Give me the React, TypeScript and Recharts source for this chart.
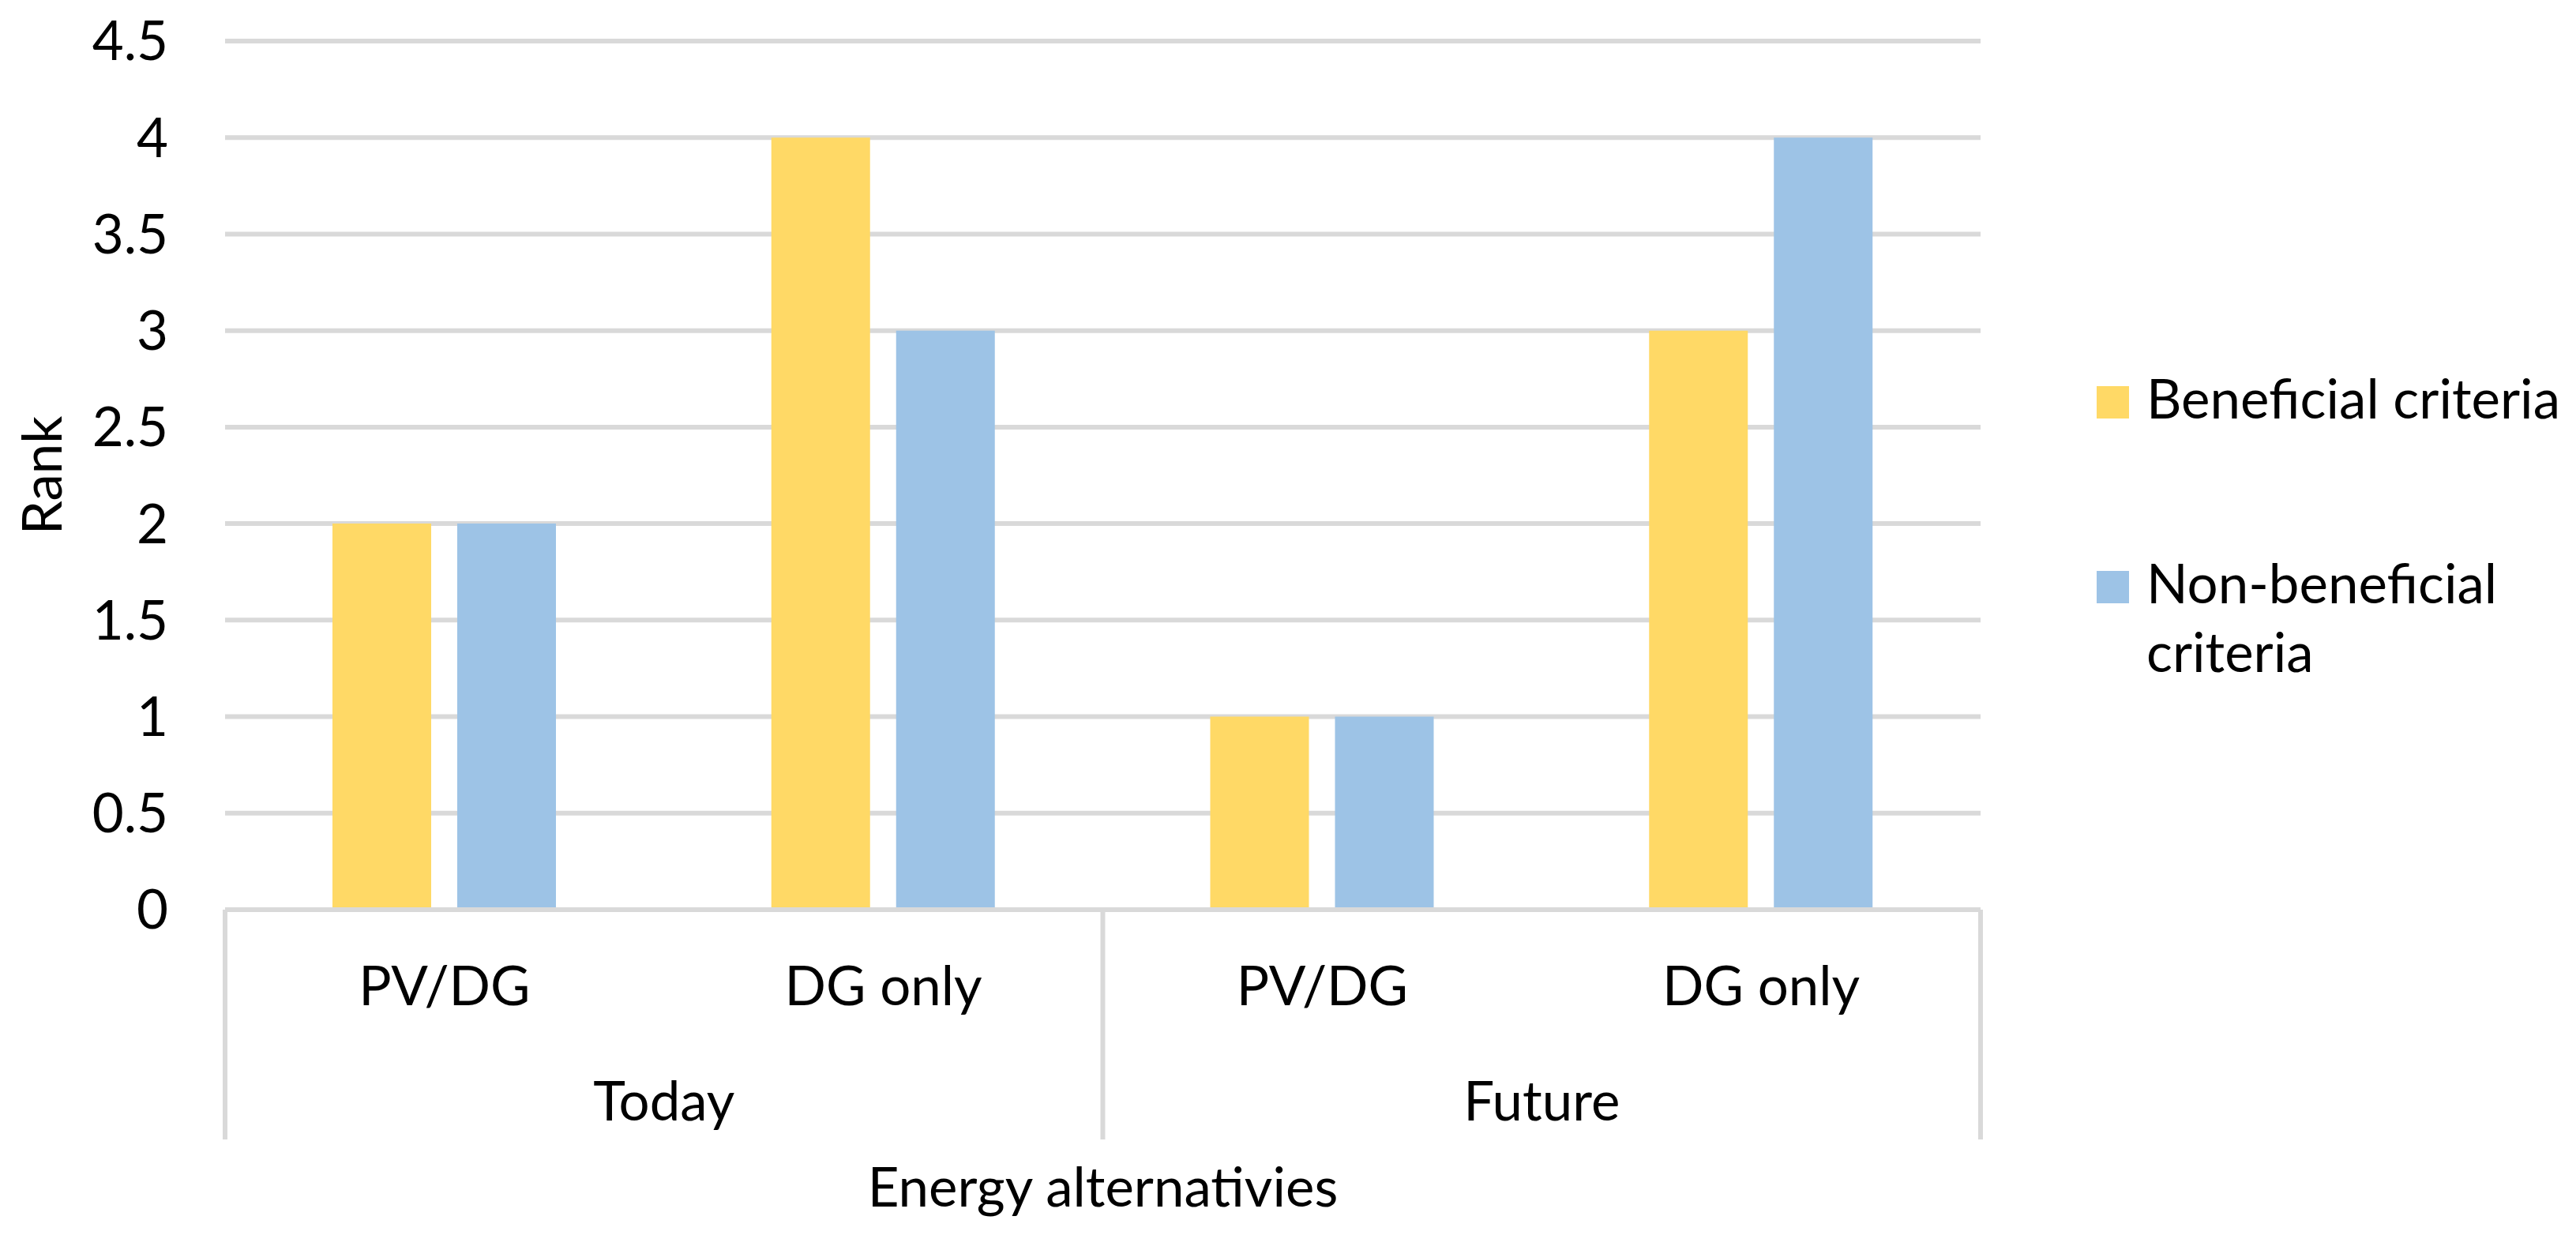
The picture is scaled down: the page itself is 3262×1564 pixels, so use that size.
import React from 'react';
import { BarChart, Bar, XAxis, YAxis, CartesianGrid, Legend, Label } from 'recharts';

const alternatives = ['PV/DG', 'DG only', 'PV/DG', 'DG only'];
const periods = ['Today', 'Today', 'Future', 'Future'];
const beneficial = [2, 4, 1, 3];
const nonBeneficial = [2, 3, 1, 4];
const yTicks = [0, 0.5, 1, 1.5, 2, 2.5, 3, 3.5, 4, 4.5];
const seriesNames = ['Beneficial criteria', 'Non-beneficial criteria'];
const legendLines = [['Beneficial criteria'], ['Non-beneficial', 'criteria']];
const seriesColors = ['#FFD966', '#9DC3E6'];
const xTitle = 'Energy alternativies';
const yTitle = 'Rank';

const FONT = 'Lato, "Open Sans", sans-serif';
const FS = 69;
const GRID = '#D9D9D9';
const TEXT = '#000000';

const data = alternatives.map((alt, i) => ({
  key: `${periods[i]}|${alt}`,
  alt,
  period: periods[i],
  beneficial: beneficial[i],
  nonBeneficial: nonBeneficial[i],
}));

const CategoryTick = (props: any) => {
  const { x, y, index, width, visibleTicksCount } = props;
  const n = visibleTicksCount || data.length;
  const band = width / n;
  const d = data[index];
  if (!d) return null;
  const first = index === 0 || data[index - 1].period !== d.period;
  const last = index === data.length - 1;
  const groupCount = data.filter((e) => e.period === d.period).length;
  const left = x - band / 2;
  return (
    <g>
      <text x={x} y={y + 121} textAnchor="middle" fontSize={FS} fontFamily={FONT} fill={TEXT}>
        {d.alt}
      </text>
      {first && <line x1={left} x2={left} y1={y} y2={y + 291} stroke={GRID} strokeWidth={6} />}
      {first && (
        <text x={left + (groupCount * band) / 2} y={y + 267} textAnchor="middle" fontSize={FS} fontFamily={FONT} fill={TEXT}>
          {d.period}
        </text>
      )}
      {last && <line x1={x + band / 2} x2={x + band / 2} y1={y} y2={y + 291} stroke={GRID} strokeWidth={6} />}
    </g>
  );
};

const RankLabel = (props: any) => {
  const vb = props.viewBox || { x: 0, y: 0, width: 0, height: 0 };
  const tx = vb.x + 78;
  const ty = vb.y + vb.height / 2;
  return (
    <text x={tx} y={ty} transform={`rotate(-90, ${tx}, ${ty})`} textAnchor="middle" fontSize={FS} fontFamily={FONT} fill={TEXT}>
      {yTitle}
    </text>
  );
};

const LegendContent = (props: any) => {
  const payload = props.payload || [];
  return (
    <svg width={622} height={460} style={{ overflow: 'visible' }}>
      {legendLines.map((lines, i) => {
        const color = (payload[i] && payload[i].color) || seriesColors[i];
        const top = i === 0 ? 49 : 283;
        return (
          <g key={i}>
            <rect x={15} y={top} width={41} height={41} fill={color} />
            {lines.map((ln, j) => (
              <text key={j} x={78} y={top + 41 + j * 87} fontSize={FS} fontFamily={FONT} fill={TEXT}>
                {ln}
              </text>
            ))}
          </g>
        );
      })}
    </svg>
  );
};

export default function App() {
  return (
    <div style={{ position: 'absolute', left: 0, top: 0, width: 3262, height: 1564, background: '#ffffff' }}>
      <BarChart
        width={3262}
        height={1564}
        data={data}
        margin={{ top: 52, right: 754, bottom: 0, left: 0 }}
        barSize={125}
        barGap={33}
      >
        <CartesianGrid vertical={false} stroke={GRID} strokeWidth={6} />
        <XAxis
          dataKey="key"
          height={412}
          interval={0}
          tickLine={false}
          tickSize={0}
          tickMargin={0}
          axisLine={{ stroke: GRID, strokeWidth: 6 }}
          tick={<CategoryTick />}
        >
          <Label value={xTitle} position="insideBottom" offset={36} fontSize={FS} fontFamily={FONT} fill={TEXT} />
        </XAxis>
        <YAxis
          width={285}
          domain={[0, 4.5]}
          ticks={yTicks}
          interval={0}
          axisLine={false}
          tickLine={false}
          tickSize={0}
          tickMargin={72}
          tick={{ fontSize: FS, fontFamily: FONT, fill: TEXT }}
        >
          <Label content={<RankLabel />} />
        </YAxis>
        <Legend
          layout="vertical"
          align="center"
          verticalAlign="middle"
          wrapperStyle={{ left: 2640, top: 440, width: 622, height: 460 }}
          content={<LegendContent />}
        />
        <Bar dataKey="beneficial" name={seriesNames[0]} fill={seriesColors[0]} isAnimationActive={false} />
        <Bar dataKey="nonBeneficial" name={seriesNames[1]} fill={seriesColors[1]} isAnimationActive={false} />
      </BarChart>
    </div>
  );
}
